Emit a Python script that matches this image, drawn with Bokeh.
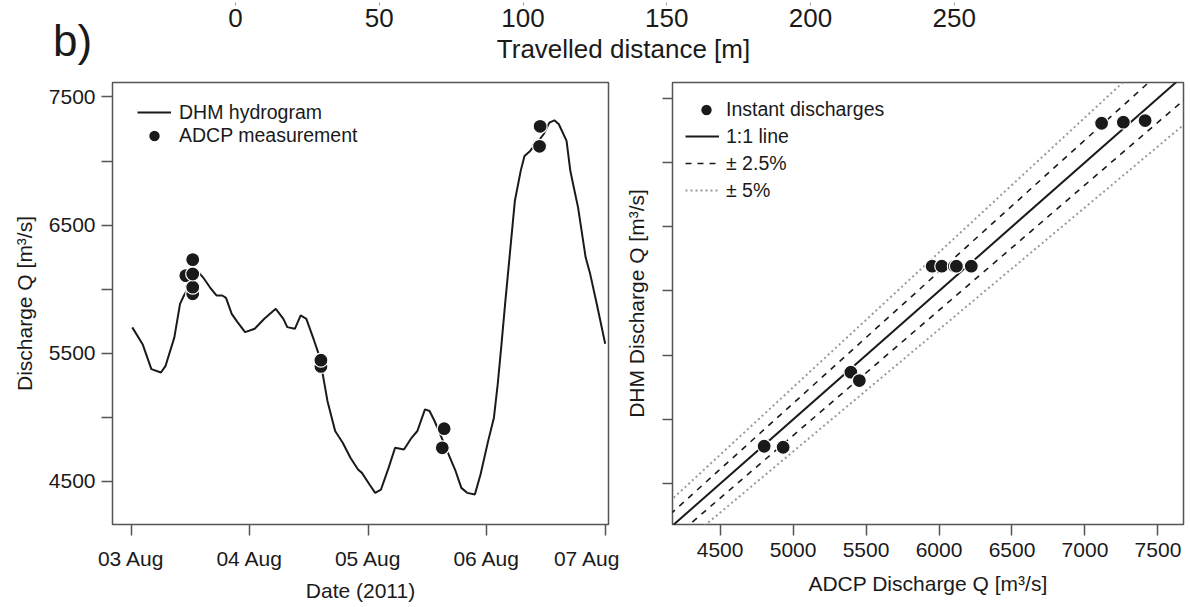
from bokeh.plotting import figure
from bokeh.models import FixedTicker, Legend, LegendItem, Range1d
from bokeh.layouts import column, row
from bokeh.embed import file_html
from bokeh.resources import INLINE

FONT = "Liberation Sans"
INK = "#1a1a1a"
FRAME = "#555555"
GREY = "#9a9a9a"

# ---- hydrogram (days after 03 Aug 2011 00:00, discharge in m3/s) ----
hydro_day = [0.009, 0.096, 0.170, 0.251, 0.290, 0.364, 0.412, 0.445, 0.490, 0.535,
             0.560, 0.606, 0.664, 0.719, 0.768, 0.800, 0.848, 0.897, 0.961, 1.042,
             1.123, 1.220, 1.284, 1.317, 1.381, 1.430, 1.478, 1.543, 1.591, 1.656,
             1.721, 1.785, 1.850, 1.914, 1.947, 2.011, 2.059, 2.108, 2.172, 2.227,
             2.302, 2.366, 2.415, 2.479, 2.518, 2.560, 2.608, 2.673, 2.738, 2.786,
             2.835, 2.900, 2.948, 3.012, 3.061, 3.093, 3.125, 3.158, 3.238, 3.287,
             3.319, 3.367, 3.400, 3.440, 3.480, 3.529, 3.571, 3.609, 3.674, 3.706,
             3.738, 3.771, 3.835, 3.873, 3.930, 4.000]
hydro_q = [5701, 5570, 5375, 5349, 5401, 5623, 5885, 5950, 6020, 6110,
           6140, 6092, 6014, 5950, 5950, 5931, 5807, 5742, 5664, 5690,
           5768, 5846, 5768, 5703, 5690, 5794, 5768, 5599, 5469, 5127,
           4892, 4800, 4683, 4591, 4565, 4474, 4409, 4435, 4604, 4761,
           4748, 4839, 4892, 5061, 5048, 4970, 4866, 4722, 4578, 4448,
           4409, 4396, 4552, 4813, 4996, 5257, 5570, 5910, 6690, 6923,
           7040, 7079, 7118, 7160, 7209, 7300, 7318, 7287, 7157, 6923,
           6781, 6638, 6248, 6119, 5880, 5573]

# ---- ADCP measurements on the hydrogram ----
adcp_day = [0.461, 0.519, 0.519, 0.519, 0.519, 1.601, 1.601, 2.625, 2.641, 3.446, 3.451]
adcp_q = [6105, 5963, 6015, 6118, 6230, 5396, 5445, 4761, 4910, 7115, 7271]

# ---- instant discharges: ADCP vs DHM ----
inst_adcp = [4802, 4932, 5396, 5454, 5953, 6019, 6105, 6119, 6221, 7114, 7263, 7412]
inst_dhm = [4792, 4784, 5368, 5303, 6193, 6193, 6193, 6193, 6193, 7305, 7313, 7326]

# ---- axes ----
date_ticks = [0, 1, 2, 3, 4]
date_labels = ["03 Aug", "04 Aug", "05 Aug", "06 Aug", "07 Aug"]
q_ticks = [4500, 5000, 5500, 6000, 6500, 7000, 7500]
q_left_labels = ["4500", "", "5500", "", "6500", "", "7500"]
dist_ticks = [0, 50, 100, 150, 200, 250]

# reference lines of the scatter panel
ref_q = [3000, 9000]
tol_inner = 0.025
tol_outer = 0.05


def style_axis(ax, tick_out=11):
    ax.axis_line_color = None
    ax.major_tick_line_color = FRAME
    ax.major_tick_line_width = 1.5
    ax.major_tick_in = 0
    ax.major_tick_out = tick_out
    ax.minor_tick_line_color = None
    ax.major_label_text_font = FONT
    ax.major_label_text_font_size = "21px"
    ax.major_label_text_color = INK
    ax.axis_label_text_font = FONT
    ax.axis_label_text_font_size = "21px"
    ax.axis_label_text_font_style = "normal"
    ax.axis_label_text_color = INK


def style_legend(lg):
    lg.border_line_color = None
    lg.background_fill_alpha = 0
    lg.padding = 0
    lg.margin = 0
    lg.label_text_font = FONT
    lg.label_text_font_size = "19.5px"
    lg.label_text_color = INK


def bare(fig):
    fig.grid.visible = False
    fig.outline_line_color = None


# ================= top strip: panel tag and travelled distance axis =================
# both strips share a 2 px frame at the very top; everything hangs below it
tag = figure(width=100, height=70, x_range=Range1d(0, 1), y_range=Range1d(0, 1),
             output_backend="svg", toolbar_location=None, y_axis_location=None,
             min_border_left=44, min_border_right=0, min_border_top=0, min_border_bottom=68)
bare(tag)
gx = tag.xaxis[0]
gx.ticker = FixedTicker(ticks=[])
gx.axis_line_color = None
gx.major_tick_out = 0
gx.major_tick_in = 0
gx.minor_tick_line_color = None
gx.major_label_standoff = 0
gx.axis_label = "b)"
gx.axis_label_text_font = FONT
gx.axis_label_text_font_size = "44px"
gx.axis_label_text_font_style = "normal"
gx.axis_label_text_color = INK
gx.axis_label_standoff = 13

top = figure(width=1090, height=70, x_range=Range1d(-46.96, 316.87), y_range=Range1d(0, 1),
             output_backend="svg", toolbar_location=None, y_axis_location=None,
             min_border_left=0, min_border_right=44, min_border_top=0, min_border_bottom=68)
bare(top)
tx = top.xaxis[0]
tx.ticker = FixedTicker(ticks=dist_ticks)
tx.axis_line_color = None
tx.major_tick_in = 0
tx.major_tick_out = 3
tx.major_tick_line_color = GREY
tx.minor_tick_line_color = None
tx.major_label_text_font = FONT
tx.major_label_text_font_size = "26px"
tx.major_label_text_color = INK
tx.major_label_standoff = 3
tx.axis_label = "Travelled distance [m]"
tx.axis_label_text_font = FONT
tx.axis_label_text_font_size = "26px"
tx.axis_label_text_font_style = "normal"
tx.axis_label_text_color = INK
tx.axis_label_standoff = 4

# ================= left: hydrogram =================
left = figure(frame_width=496, frame_height=442,
              x_range=Range1d(-0.158, 4.028), y_range=Range1d(4162, 7613),
              output_backend="svg", toolbar_location=None,
              min_border_left=112, min_border_right=12, min_border_top=12, min_border_bottom=83)
left.grid.visible = False
left.outline_line_color = FRAME
left.outline_line_width = 1.5
lx, ly = left.xaxis[0], left.yaxis[0]
style_axis(lx)
style_axis(ly)
lx.ticker = FixedTicker(ticks=date_ticks)
lx.major_label_overrides = {t: s for t, s in zip(date_ticks, date_labels)}
lx.major_label_standoff = 11
lx.axis_label = "Date (2011)"
lx.axis_label_standoff = 6
ly.ticker = FixedTicker(ticks=q_ticks)
ly.major_label_overrides = {t: s for t, s in zip(q_ticks, q_left_labels)}
ly.major_label_standoff = 6
ly.axis_label = "Discharge Q [m³/s]"
ly.axis_label_standoff = 10

hydro = left.line(hydro_day, hydro_q, line_color=INK, line_width=2)
meas = left.scatter(adcp_day, adcp_q, size=14, fill_color=INK, line_color="white", line_width=1.2)

leg_l1 = Legend(items=[LegendItem(label="DHM hydrogram", renderers=[hydro])],
                location=(25, 400), glyph_width=34, glyph_height=24, label_height=24, label_standoff=8)
leg_l2 = Legend(items=[LegendItem(label="ADCP measurement", renderers=[meas])],
                location=(25, 374), glyph_width=34, glyph_height=29, label_height=24, label_standoff=8)
for lg in (leg_l1, leg_l2):
    style_legend(lg)
    left.add_layout(lg)

# ================= right: DHM vs ADCP =================
right = figure(frame_width=511, frame_height=442,
               x_range=Range1d(4174, 7675), y_range=Range1d(4183, 7622),
               output_backend="svg", toolbar_location=None,
               min_border_left=52, min_border_right=7, min_border_top=12, min_border_bottom=83)
right.grid.visible = False
right.outline_line_color = FRAME
right.outline_line_width = 1.5
rx, ry = right.xaxis[0], right.yaxis[0]
style_axis(rx)
style_axis(ry, tick_out=10)
rx.ticker = FixedTicker(ticks=q_ticks)
rx.major_label_standoff = 7
rx.axis_label = "ADCP Discharge Q [m³/s]"
rx.axis_label_standoff = 12
ry.ticker = FixedTicker(ticks=q_ticks)
ry.major_label_overrides = {t: "" for t in q_ticks}
ry.major_label_standoff = 0
ry.axis_label = "DHM Discharge Q [m³/s]"
ry.axis_label_standoff = 15

outer_hi = right.line(ref_q, [q * (1 + tol_outer) for q in ref_q], line_color=GREY, line_width=2, line_dash="2 3")
right.line(ref_q, [q * (1 - tol_outer) for q in ref_q], line_color=GREY, line_width=2, line_dash="2 3")
inner_hi = right.line(ref_q, [q * (1 + tol_inner) for q in ref_q], line_color=INK, line_width=1.6, line_dash="6 6")
right.line(ref_q, [q * (1 - tol_inner) for q in ref_q], line_color=INK, line_width=1.6, line_dash="6 6")
one_to_one = right.line(ref_q, ref_q, line_color=INK, line_width=2)
inst = right.scatter(inst_adcp, inst_dhm, size=14, fill_color=INK, line_color="white", line_width=1.2)

leg_r1 = Legend(items=[LegendItem(label="Instant discharges", renderers=[inst])],
                location=(17, 400), glyph_width=34, glyph_height=29, label_height=24, label_standoff=3)
leg_r2 = Legend(items=[LegendItem(label="1:1 line", renderers=[one_to_one]),
                       LegendItem(label="± 2.5%", renderers=[inner_hi]),
                       LegendItem(label="± 5%", renderers=[outer_hi])],
                location=(13, 322), glyph_width=34, glyph_height=24, label_height=24,
                spacing=3, label_standoff=7)
for lg in (leg_r1, leg_r2):
    style_legend(lg)
    right.add_layout(lg)

page = column(row(tag, top), row(left, right))
open("out.html", "w").write(file_html(page, INLINE))
